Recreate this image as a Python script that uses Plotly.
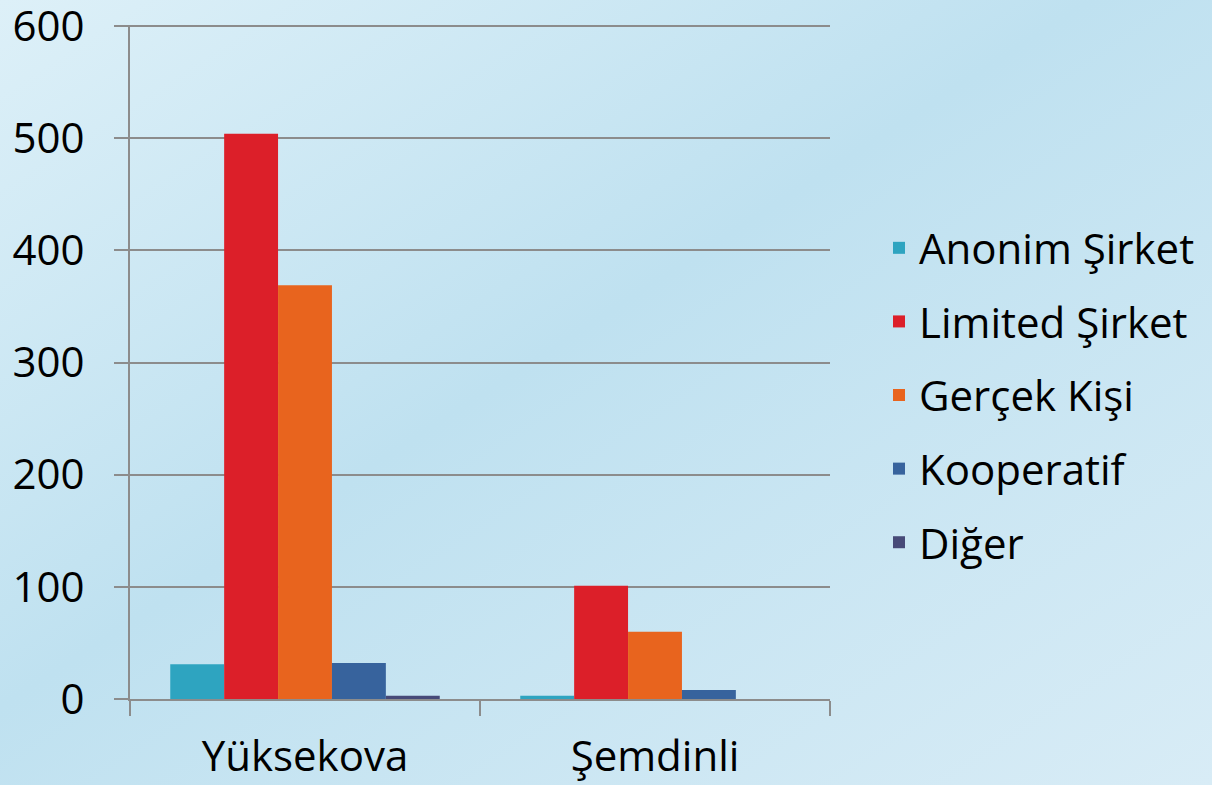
import base64
import plotly.graph_objects as go

categories = ["Yüksekova", "Şemdinli"]
series_names = ["Anonim Şirket", "Limited Şirket", "Gerçek Kişi", "Kooperatif", "Diğer"]
anonim = [31, 3]
limited = [504, 101]
gercek = [369, 60]
kooperatif = [32, 8]
diger = [3, 0]
y_ticks = [0, 100, 200, 300, 400, 500, 600]

series_values = [anonim, limited, gercek, kooperatif, diger]
colors = ["#2ea4c0", "#dc1f29", "#e8641e", "#37639d", "#474a78"]

W, H = 1212, 785
ml, mr, mt, mb = 130, 382, 25, 86
pw, ph = W - ml - mr, H - mt - mb

svg = f'''<svg xmlns="http://www.w3.org/2000/svg" width="{W}" height="{H}" viewBox="0 0 {W} {H}" preserveAspectRatio="none">
<defs><linearGradient id="g" x1="0" y1="0" x2="1" y2="1">
<stop offset="0" stop-color="#ddf0f8"/>
<stop offset="0.45" stop-color="#bfe1f0"/>
<stop offset="1" stop-color="#d8ecf6"/>
</linearGradient></defs>
<rect width="{W}" height="{H}" fill="url(#g)"/></svg>'''
bg_src = "data:image/svg+xml;base64," + base64.b64encode(svg.encode()).decode()

font_family = "Open Sans, Liberation Sans, sans-serif"
FS = 42

fig = go.Figure()
for name, vals, col in zip(series_names, series_values, colors):
    fig.add_trace(go.Bar(x=categories, y=vals, name=name, marker_color=col,
                         marker_line_width=0, legendgroup=name))

fig.update_layout(
    width=W, height=H,
    margin=dict(l=ml, r=mr, t=mt, b=mb, pad=0),
    paper_bgcolor="#c6e4f1",
    plot_bgcolor="rgba(0,0,0,0)",
    barmode="group",
    bargap=0.23,
    bargroupgap=0,
    font=dict(family=font_family, size=FS, color="#000000"),
    legend=dict(x=1.07, y=0.451, xanchor="left", yanchor="middle",
                bgcolor="rgba(0,0,0,0)", font=dict(size=FS),
                tracegroupgap=16, itemwidth=30),
    images=[dict(source=bg_src, xref="paper", yref="paper",
                 x=-ml / pw, y=1 + mt / ph, sizex=W / pw, sizey=H / ph,
                 xanchor="left", yanchor="top", sizing="stretch", layer="below")],
    showlegend=True,
)
fig.update_xaxes(showgrid=False, showline=True, linecolor="#8c8c8c", linewidth=2,
                 ticks="outside", ticklen=15, tickcolor="#8c8c8c", tickwidth=2,
                 tickson="boundaries", tickfont=dict(size=FS), ticklabelstandoff=20,
                 automargin=False, ticklabeloverflow="allow")
fig.update_yaxes(range=[0, 601], tickvals=y_ticks, showgrid=True, gridcolor="#8c8c8c",
                 gridwidth=2, showline=True, linecolor="#8c8c8c", linewidth=2,
                 ticks="outside", ticklen=14, tickcolor="#8c8c8c", tickwidth=2,
                 zeroline=False, tickfont=dict(size=FS), ticklabelstandoff=21,
                 automargin=False, ticklabeloverflow="allow")

fig.write_html("out.html", config={"displayModeBar": False},
               post_script="document.body.style.margin='0';")
